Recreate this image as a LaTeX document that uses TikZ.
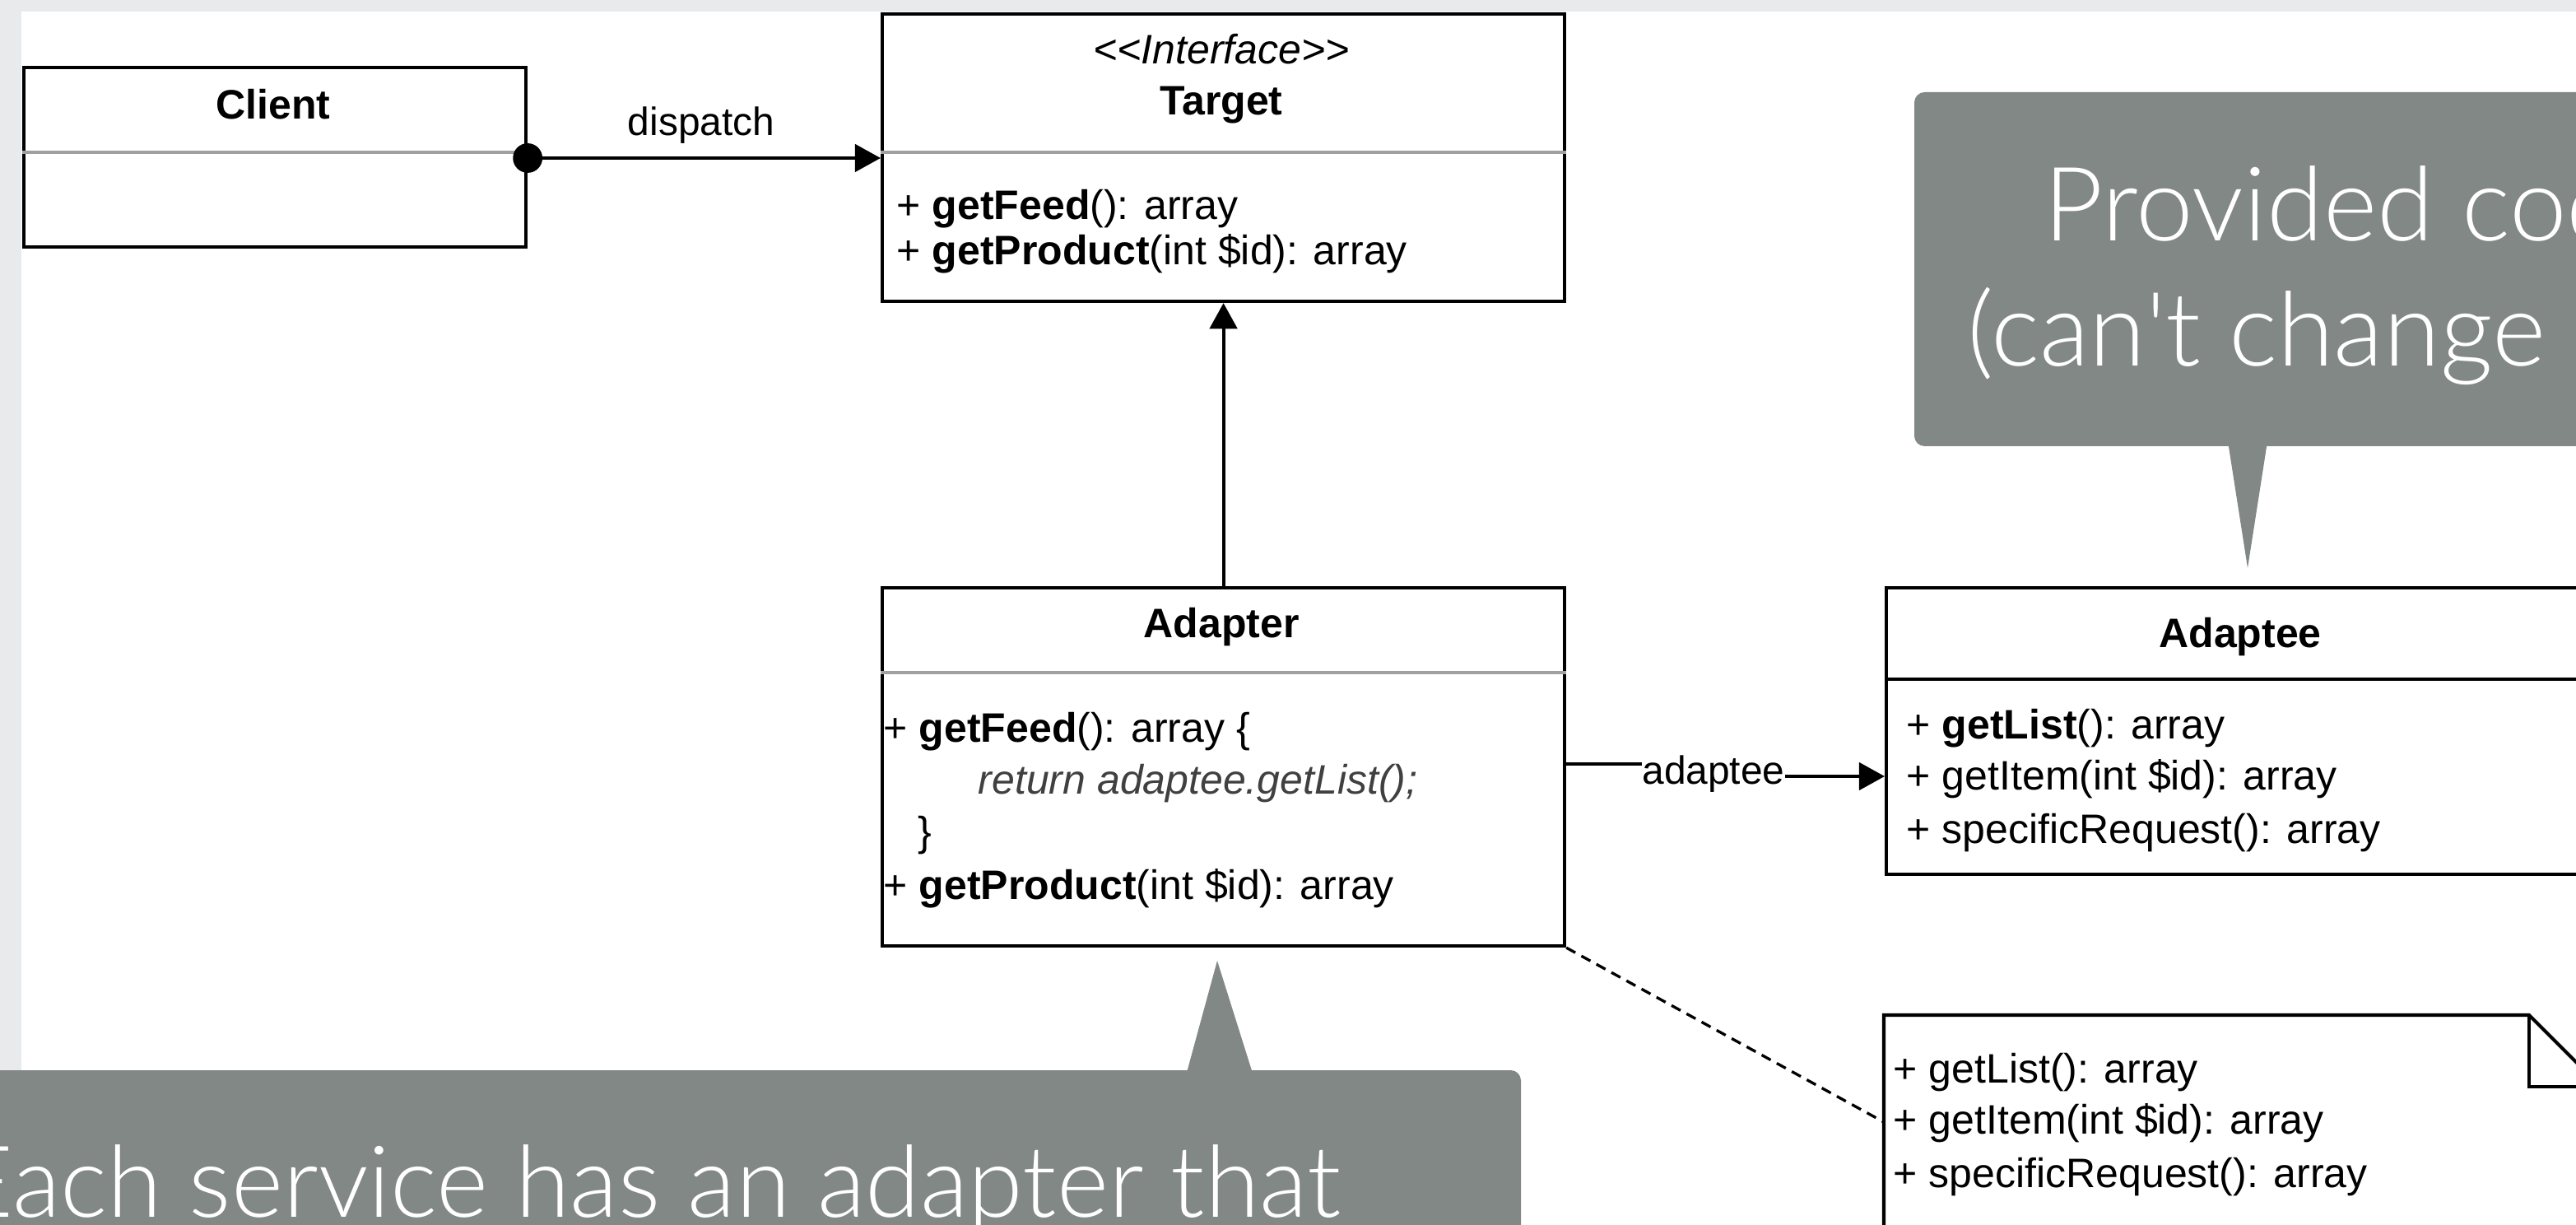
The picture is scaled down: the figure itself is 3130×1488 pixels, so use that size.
\documentclass[tikz,border=0pt]{standalone}
\usepackage{fontspec}
\setmainfont{Liberation Sans}
\newfontfamily\callfont{Lato Light}
\usetikzlibrary{arrows.meta}
\definecolor{bggray}{HTML}{E8EAEC}
\definecolor{callgray}{HTML}{828885}
\definecolor{divgray}{HTML}{A0A0A0}
\newdimen\px \px=0.24pt
\tikzset{
  umlbox/.style={draw, line width=1pt, fill=white, anchor=north west, inner sep=0pt},
  divline/.style={draw=divgray, line width=0.8pt},
  member/.style={anchor=base west, inner sep=0pt, font=\fontsize{12}{14}\selectfont},
  classname/.style={anchor=base, inner sep=0pt, font=\fontsize{12}{14}\selectfont\bfseries},
  linklabel/.style={anchor=base, inner sep=0pt, font=\fontsize{11.5}{14}\selectfont},
  assoc/.style={line width=1pt, -{Triangle[length=7.5pt,width=8pt]}},
  bubble/.style={fill=callgray},
  bubbletext/.style={anchor=base west, inner sep=0pt, text=white, font=\callfont\fontsize{30}{36}\selectfont}
}
\begin{document}
\begin{tikzpicture}[x=0.24pt,y=-0.24pt]
\useasboundingbox (0,0) rectangle (3130,1488);
\clip (0,0) rectangle (3130,1488);
\fill[bggray] (0,0) rectangle (3130,1488);
\fill[white] (26,14) rectangle (3130,1488);

%Shape: Class [Client]
\node[umlbox, minimum width=610*\px, minimum height=218*\px] (client) at (27,80) {};
\draw[divline] (client.west |- 0,185) -- (client.east |- 0,185);
\node[classname] (clientname) at (332,145) {Client};

%Shape: Class [Target]
\node[umlbox, minimum width=829*\px, minimum height=349*\px] (target) at (1070,15) {};
\draw[divline] (target.west |- 0,185) -- (target.east |- 0,185);
\node[classname, font=\fontsize{12}{14}\selectfont\itshape] (stereo) at (1484,78) {{<}{<}Interface{>}{>}};
\node[classname] (targetname) at (1484,140) {Target};
\node[member] (tfeed) at (1089,267) {+ \textbf{getFeed}(): array};
\node[member] (tproduct) at (1089,322) {+ \textbf{getProduct}(int \$id): array};

%Shape: Class [Adapter]
\node[umlbox, minimum width=829*\px, minimum height=435*\px] (adapter) at (1070,712) {};
\draw[divline] (adapter.west |- 0,817) -- (adapter.east |- 0,817);
\node[classname] (adaptername) at (1484,775) {Adapter};
\node[member] (afeed) at (1073,902) {+ \textbf{getFeed}(): array \{};
\node[member, font=\fontsize{12}{14}\selectfont\itshape, text=black!75] (areturn) at (1188,965) {return adaptee.getList();};
\node[member] (aclose) at (1115,1028) {\}};
\node[member] (aproduct) at (1073,1093) {+ \textbf{getProduct}(int \$id): array};

%Shape: Class [Adaptee]
\node[umlbox, minimum width=900*\px, minimum height=348*\px] (adaptee) at (2290,712) {};
\draw[line width=1pt] (adaptee.west |- 0,825) -- (adaptee.east |- 0,825);
\node[classname] (adapteename) at (2722,787) {Adaptee};
\node[member] (elist) at (2316,898) {+ \textbf{getList}(): array};
\node[member] (eitem) at (2316,960) {+ getItem(int \$id): array};
\node[member] (erequest) at (2316,1025) {+ specificRequest(): array};

%Shape: Note
\coordinate (notefold) at (3073,1233);
\coordinate (noteleft) at (2289,1363);
\filldraw[fill=white, line width=1pt] (2289,1560) -- (2289,1233) -- (notefold) -- (3160,1320) -- (3160,1560);
\draw[line width=1pt] (notefold) -- (3073,1320) -- (3160,1320);
\node[member] (nlist) at (2300,1315) {+ getList(): array};
\node[member] (nitem) at (2300,1377) {+ getItem(int \$id): array};
\node[member] (nrequest) at (2300,1442) {+ specificRequest(): array};

%Connectors
\coordinate (dispatchdot) at (client.east |- 0,192);
\draw[assoc] (dispatchdot) -- (target.west |- 0,192);
\fill (dispatchdot) circle[radius=4.3pt];
\node[linklabel] (dispatchlbl) at (852,165) {dispatch};
\draw[assoc] (adapter.north) -- (target.south);
\node[linklabel] (adapteelbl) at (2082,953) {adaptee};
\draw[line width=1pt] (adapter.east |- 0,928) -- (adapteelbl.west |- 0,928);
\draw[assoc] (adapteelbl.east |- 0,943) -- (adaptee.west |- 0,943);
\draw[line width=0.8pt, dash pattern=on 3pt off 2pt] (adapter.south east) -- (noteleft);

%Callouts
\fill[bubble, rounded corners=3pt] (2326,112) rectangle (3250,542);
\fill[bubble] (2706,530) -- (2731,690) -- (2756,530) -- cycle;
\node[bubbletext] (provided) at (2483,293) {Provided code};
\node[bubbletext] (cantchange) at (2390,445) {(can't change this)};
\fill[bubble, rounded corners=3pt] (-60,1300) rectangle (1848,1600);
\fill[bubble] (1440,1310) -- (1479,1167) -- (1524,1310) -- cycle;
\node[bubbletext, anchor=base east, font=\callfont\fontsize{29}{34}\selectfont] (eachservice) at (1630,1478) {Each service has an adapter that};
\end{tikzpicture}
\end{document}
